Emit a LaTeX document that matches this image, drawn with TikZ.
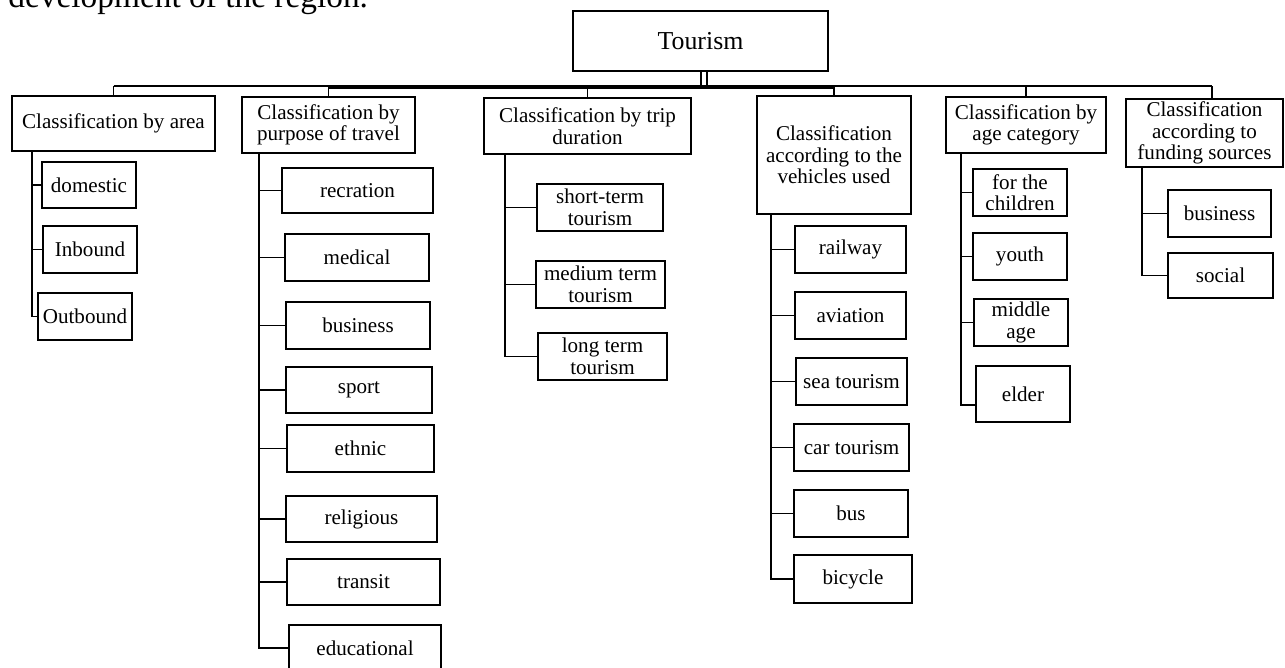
\documentclass[tikz,border=0pt]{standalone}
\usepackage{fontspec}
\setmainfont{Liberation Serif}
\usepackage{tikz}

\begin{document}
\begin{tikzpicture}[x=0.02cm,y=-0.02cm]
        \tikzstyle{every node}+=[inner sep=0pt]
        \tikzset{box/.style 2 args={draw=black, line width=1.1pt, align=center, minimum width=#1*0.02cm, minimum height=#2*0.02cm, font=\fontsize{12}{12.3}\selectfont},
          conn/.style={black, line width=1.1pt}}
        \useasboundingbox (0,0) rectangle (1285,667);
        \node[anchor=base west, font=\fontsize{19}{22}\selectfont] (intro) at (8,7) {development of the region.};
        \node[box={255}{60}, font=\fontsize{14.7}{17}\selectfont] (tour) at (700.5,41) {Tourism};
        \node[box={203}{55}] (area) at (113.5,123.5) {Classification by area};
        \node[box={173}{56}] (purp) at (328.5,125) {Classification by\\purpose of travel};
        \node[box={207}{56}] (trip) at (587.5,126) {Classification by trip\\duration};
        \node[box={154}{118}] (veh) at (834,155) {Classification\\according to the\\vehicles used};
        \node[box={160}{56}] (age) at (1026,125) {Classification by\\age category};
        \node[box={157}{68}] (fund) at (1204.5,133) {Classification\\according to\\funding sources};
        \node[box={94}{46}] (dom) at (89,185) {domestic};
        \node[box={94}{47}] (inb) at (90,249.5) {Inbound};
        \node[box={94}{47}] (outb) at (85,316.5) {Outbound};
        \node[box={151}{45}] (recr) at (357.5,190.5) {recration};
        \node[box={144}{47}] (med) at (357,257.5) {medical};
        \node[box={144}{47}] (busp) at (358,325.5) {business};
        \node[box={146}{46}] (sport) at (359,390) {sport};
        \node[box={147}{47}] (ethn) at (360.5,448.5) {ethnic};
        \node[box={151}{46}] (relig) at (361.5,519) {religious};
        \node[box={153}{46}] (trans) at (363.5,582) {transit};
        \node[box={152}{46}] (educ) at (365,648) {educational};
        \node[box={126}{47}] (short) at (600,207.5) {short-term\\tourism};
        \node[box={129}{47}] (medium) at (600.5,284.5) {medium term\\tourism};
        \node[box={129}{47}] (long) at (602.5,356.5) {long term\\tourism};
        \node[box={111}{47}] (rail) at (850.5,249.5) {railway};
        \node[box={111}{47}] (avia) at (850.5,315.5) {aviation};
        \node[box={111}{47}] (sea) at (851.5,381.5) {sea tourism};
        \node[box={115}{47}] (car) at (851.5,447.5) {car tourism};
        \node[box={114}{47}] (busv) at (851,513.5) {bus};
        \node[box={118}{48}] (bicy) at (853,579) {bicycle};
        \node[box={94}{47}] (child) at (1020,192.5) {for the\\children};
        \node[box={94}{47}] (youth) at (1020,256.5) {youth};
        \node[box={94}{47}] (middle) at (1021,322.5) {middle\\age};
        \node[box={94}{56}] (elder) at (1023,394) {elder};
        \node[box={103}{47}] (busf) at (1219.5,213.5) {business};
        \node[box={105}{45}] (social) at (1220.5,275.5) {social};
        \coordinate (bar) at (0,86);
        \coordinate (bar2) at (0,88);
        \coordinate (fundtop) at ([xshift=0.15cm]fund.north);
        \draw[conn] ([xshift=0.01cm]tour.south) -- ++(0,16);
        \draw[conn] ([xshift=0.13cm]tour.south) -- ++(0,16);
        \draw[conn] (area.north |- bar) -- (fundtop |- bar);
        \draw[conn] (purp.north |- bar2) -- (veh.north |- bar2);
        \draw[conn] (area.north |- bar) -- (area.north);
        \draw[conn] (purp.north |- bar) -- (purp.north);
        \draw[conn] (trip.north |- bar) -- (trip.north);
        \draw[conn] (veh.north |- bar) -- (veh.north);
        \draw[conn] (age.north |- bar) -- (age.north);
        \draw[conn] (fundtop |- bar) -- (fundtop);
        \coordinate (ta) at ([xshift=0.42cm]area.south west);
        \draw[conn] (ta) |- (outb.west);
        \draw[conn] (ta |- dom.west) -- (dom.west);
        \draw[conn] (ta |- inb.west) -- (inb.west);
        \coordinate (tp) at ([xshift=0.36cm]purp.south west);
        \draw[conn] (tp) |- (educ.west);
        \draw[conn] (tp |- recr.west) -- (recr.west);
        \draw[conn] (tp |- med.west) -- (med.west);
        \draw[conn] (tp |- busp.west) -- (busp.west);
        \draw[conn] (tp |- sport.west) -- (sport.west);
        \draw[conn] (tp |- ethn.west) -- (ethn.west);
        \draw[conn] (tp |- relig.west) -- (relig.west);
        \draw[conn] (tp |- trans.west) -- (trans.west);
        \coordinate (tt) at ([xshift=0.44cm]trip.south west);
        \draw[conn] (tt) |- (long.west);
        \draw[conn] (tt |- short.west) -- (short.west);
        \draw[conn] (tt |- medium.west) -- (medium.west);
        \coordinate (tv) at ([xshift=0.30cm]veh.south west);
        \draw[conn] (tv) |- (bicy.west);
        \draw[conn] (tv |- rail.west) -- (rail.west);
        \draw[conn] (tv |- avia.west) -- (avia.west);
        \draw[conn] (tv |- sea.west) -- (sea.west);
        \draw[conn] (tv |- car.west) -- (car.west);
        \draw[conn] (tv |- busv.west) -- (busv.west);
        \coordinate (tg) at ([xshift=0.32cm]age.south west);
        \coordinate (eldj) at ([yshift=-0.22cm]elder.west);
        \draw[conn] (tg) |- (eldj);
        \draw[conn] (tg |- child.west) -- (child.west);
        \draw[conn] (tg |- youth.west) -- (youth.west);
        \draw[conn] (tg |- middle.west) -- (middle.west);
        \coordinate (tf) at ([xshift=0.34cm]fund.south west);
        \draw[conn] (tf) |- (social.west);
        \draw[conn] (tf |- busf.west) -- (busf.west);
\end{tikzpicture}
\end{document}
